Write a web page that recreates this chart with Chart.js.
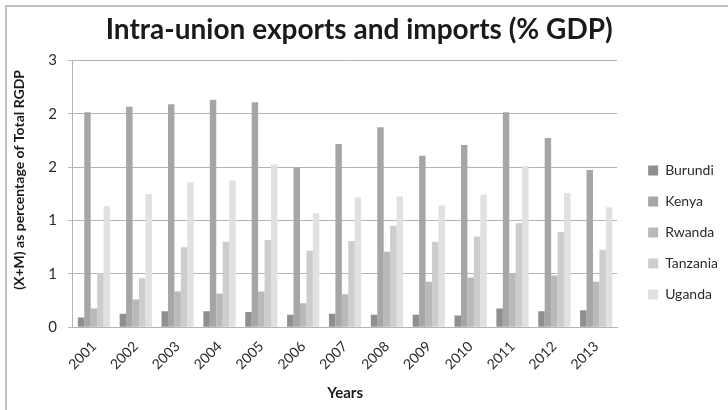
<!DOCTYPE html>
<html>
<head>
<meta charset="utf-8">
<script src="https://cdn.jsdelivr.net/npm/chart.js@4.4.1/dist/chart.umd.min.js"></script>
<style>
  html, body { margin: 0; padding: 0; background: #ffffff; }
  #wrap { position: relative; width: 728px; height: 410px; }
  #frame { position: absolute; left: 5px; top: 5px; right: 0; bottom: 0;
           border-top: 2px solid #c0c0c0; border-left: 2px solid #c0c0c0; pointer-events: none; }
</style>
</head>
<body>
<div id="wrap">
  <canvas id="chart" width="728" height="410"></canvas>
  <div id="frame"></div>
</div>
<script>
// Years on the category axis
const years = ['2001','2002','2003','2004','2005','2006','2007','2008','2009','2010','2011','2012','2013'];

// Intra-union trade (X+M) as % of total RGDP, by country
const burundi  = [0.11, 0.15, 0.18, 0.18, 0.17, 0.14, 0.15, 0.14, 0.14, 0.13, 0.21, 0.18, 0.19];
const kenya    = [2.42, 2.48, 2.51, 2.56, 2.53, 1.80, 2.06, 2.25, 1.93, 2.05, 2.42, 2.13, 1.77];
const rwanda   = [0.21, 0.31, 0.40, 0.38, 0.40, 0.27, 0.37, 0.85, 0.51, 0.56, 0.61, 0.58, 0.51];
const tanzania = [0.61, 0.55, 0.90, 0.96, 0.98, 0.86, 0.97, 1.14, 0.96, 1.02, 1.17, 1.07, 0.87];
const uganda   = [1.36, 1.50, 1.63, 1.65, 1.83, 1.28, 1.46, 1.47, 1.37, 1.49, 1.81, 1.51, 1.35];

// Y axis range and step
const yMin = 0, yMax = 3, yStep = 0.6;

const seriesNames  = ['Burundi', 'Kenya', 'Rwanda', 'Tanzania', 'Uganda'];
const seriesValues = [burundi, kenya, rwanda, tanzania, uganda];
const seriesColors = ['#8f8f8f', '#a6a6a6', '#b9b9b9', '#cdcdcd', '#e1e1e1'];

const FONT = 'Lato, "Open Sans", "DejaVu Sans", sans-serif';
const TEXT = '#2b2b2b';
const GRID = '#b4b4b4';

const datasets = seriesNames.map((name, i) => ({
  label: name,
  data: seriesValues[i],
  backgroundColor: seriesColors[i],
  borderWidth: 0,
  barPercentage: 1.0,
  categoryPercentage: 0.77
}));

new Chart(document.getElementById('chart'), {
  type: 'bar',
  data: { labels: years, datasets },
  options: {
    responsive: false,
    animation: false,
    devicePixelRatio: 1,
    layout: { padding: { left: 11.5, right: 0, top: 13, bottom: 8 } },
    plugins: {
      title: {
        display: true,
        text: 'Intra-union exports and imports (% GDP)\u2003',
        color: '#1a1a1a',
        font: { family: FONT, size: 28, weight: 'bold' },
        padding: { top: 0, bottom: 14 }
      },
      legend: {
        position: 'right',
        title: { display: true, text: '', font: { size: 10 }, padding: { top: 0, bottom: 38 } },
        labels: {
          boxWidth: 10,
          boxHeight: 10,
          padding: 17,
          color: TEXT,
          font: { family: FONT, size: 14 }
        }
      },
      tooltip: { enabled: false }
    },
    scales: {
      x: {
        grid: { display: false, drawTicks: false },
        border: { display: true, color: GRID, width: 1 },
        ticks: {
          color: TEXT,
          font: { family: FONT, size: 14 },
          maxRotation: 45,
          minRotation: 45,
          padding: 11,
          autoSkip: false
        },
        title: {
          display: true,
          text: 'Years',
          color: '#1a1a1a',
          font: { family: FONT, size: 15, weight: 'bold' },
          padding: { top: 0, bottom: 0 }
        },
        // rotated year labels may run under the value axis; no extra side room
        afterFit: s => { s.paddingLeft = 0; s.paddingRight = 0; }
      },
      y: {
        min: yMin,
        max: yMax,
        grid: { color: GRID, lineWidth: 1, tickLength: 5 },
        border: { display: true, color: GRID, width: 1 },
        ticks: {
          stepSize: yStep,
          color: TEXT,
          padding: 11,
          font: { family: FONT, size: 15 },
          callback: v => Math.round(v).toString()
        },
        title: {
          display: true,
          text: '\u2002\u2002\u2002\u2002(X+M) as percentage of Total RGDP',
          color: '#1a1a1a',
          font: { family: FONT, size: 14, weight: 'bold' },
          padding: { top: 0, bottom: 9 }
        }
      },
      // Spacer between the plot area and the legend
      gap: {
        position: 'right',
        display: true,
        grid: { display: false },
        border: { display: false },
        ticks: { display: false },
        afterFit: s => { s.width = 14; }
      }
    }
  }
});
</script>
</body>
</html>
